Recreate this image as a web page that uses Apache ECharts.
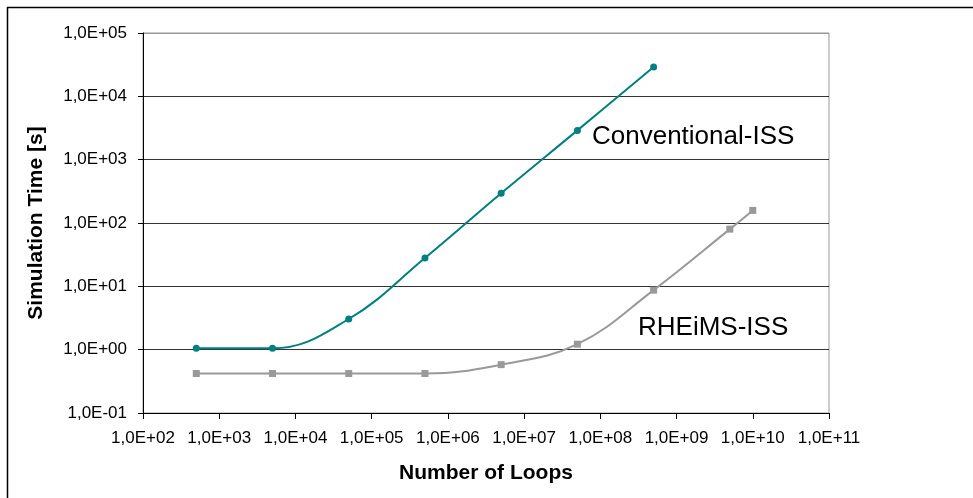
<!DOCTYPE html>
<html>
<head>
<meta charset="utf-8">
<script src="https://cdn.jsdelivr.net/npm/echarts@6/dist/echarts.min.js"></script>
<style>
  html, body { margin: 0; padding: 0; background: #fff; }
  #chart { width: 973px; height: 498px; }
</style>
</head>
<body>
<div id="chart"></div>
<script>
// number of loops (x) and simulation time in seconds (y)
const convLoops = [5e2, 5e3, 5e4, 5e5, 5e6, 5e7, 5e8]
const convTime = [1.05, 1.05, 3.05, 28, 295, 2900, 29000]
const rheimsLoops = [5e2, 5e3, 5e4, 5e5, 5e6, 5e7, 5e8, 5e9, 1e10]
const rheimsTime = [0.42, 0.42, 0.42, 0.42, 0.58, 1.22, 8.7, 80, 158]

const xTickLabels = ['1,0E+02', '1,0E+03', '1,0E+04', '1,0E+05', '1,0E+06', '1,0E+07', '1,0E+08', '1,0E+09', '1,0E+10', '1,0E+11']
const yTickLabels = ['1,0E-01', '1,0E+00', '1,0E+01', '1,0E+02', '1,0E+03', '1,0E+04', '1,0E+05']

const pair = (xs, ys) => xs.map((x, i) => [x, ys[i]])

const font = 'Liberation Sans, Arial, sans-serif'
const myChart = echarts.init(document.getElementById('chart'))

myChart.setOption({
  animation: false,
  grid: {
    left: 143,
    right: 144,
    top: 33,
    bottom: 85,
    show: true,
    borderColor: '#999',
    borderWidth: 1
  },
  xAxis: {
    type: 'log',
    logBase: 10,
    min: 1e2,
    max: 1e11,
    splitNumber: 9,
    name: 'Number of Loops',
    nameLocation: 'middle',
    nameGap: 50,
    nameTextStyle: { fontFamily: font, fontSize: 21, fontWeight: 'bold', color: '#000' },
    axisLine: { lineStyle: { color: '#000', width: 1 } },
    axisTick: { show: true, length: 6, lineStyle: { color: '#000' } },
    minorTick: { show: false },
    axisLabel: {
      margin: 17,
      fontFamily: font,
      fontSize: 17,
      color: '#000',
      // 科学计数法标签
      formatter: (v) => xTickLabels[Math.round(Math.log10(v)) - 2]
    },
    splitLine: { show: false }
  },
  yAxis: {
    type: 'log',
    logBase: 10,
    min: 0.1,
    max: 1e5,
    splitNumber: 6,
    name: 'Simulation Time [s]',
    nameLocation: 'middle',
    nameGap: 96,
    nameTextStyle: { fontFamily: font, fontSize: 21, fontWeight: 'bold', color: '#000' },
    axisLine: { show: true, lineStyle: { color: '#000', width: 1 } },
    axisTick: { show: true, length: 5, lineStyle: { color: '#000' } },
    minorTick: { show: false },
    axisLabel: {
      margin: 16,
      fontFamily: font,
      fontSize: 17,
      color: '#000',
      formatter: (v) => yTickLabels[Math.round(Math.log10(v)) + 1]
    },
    splitLine: {
      show: true,
      lineStyle: {
        color: ['#333', '#333', '#333', '#333', '#333', '#333', '#999'],
        width: 1
      }
    }
  },
  graphic: [
    // outer chart frame (only top and left edges are in view)
    { type: 'line', shape: { x1: 7, y1: 7.5, x2: 973, y2: 7.5 }, style: { stroke: '#000', lineWidth: 1.5 } },
    { type: 'line', shape: { x1: 7.5, y1: 7, x2: 7.5, y2: 498 }, style: { stroke: '#000', lineWidth: 1.5 } },
    {
      type: 'text', left: 592, top: 124,
      style: { text: 'Conventional-ISS', fontFamily: font, fontSize: 26, fill: '#000' }
    },
    {
      type: 'text', left: 638, top: 315,
      style: { text: 'RHEiMS-ISS', fontFamily: font, fontSize: 26, fill: '#000' }
    }
  ],
  series: [
    {
      name: 'Conventional-ISS',
      type: 'line',
      smooth: 0.4,
      data: pair(convLoops, convTime),
      symbol: 'circle',
      symbolSize: 7,
      color: '#008080',
      lineStyle: { width: 2, color: '#008080' },
      itemStyle: { color: '#008080' }
    },
    {
      name: 'RHEiMS-ISS',
      type: 'line',
      smooth: 0.4,
      data: pair(rheimsLoops, rheimsTime),
      symbol: 'rect',
      symbolSize: 7,
      color: '#999999',
      lineStyle: { width: 2, color: '#999999' },
      itemStyle: { color: '#999999' }
    }
  ]
})
</script>
</body>
</html>
